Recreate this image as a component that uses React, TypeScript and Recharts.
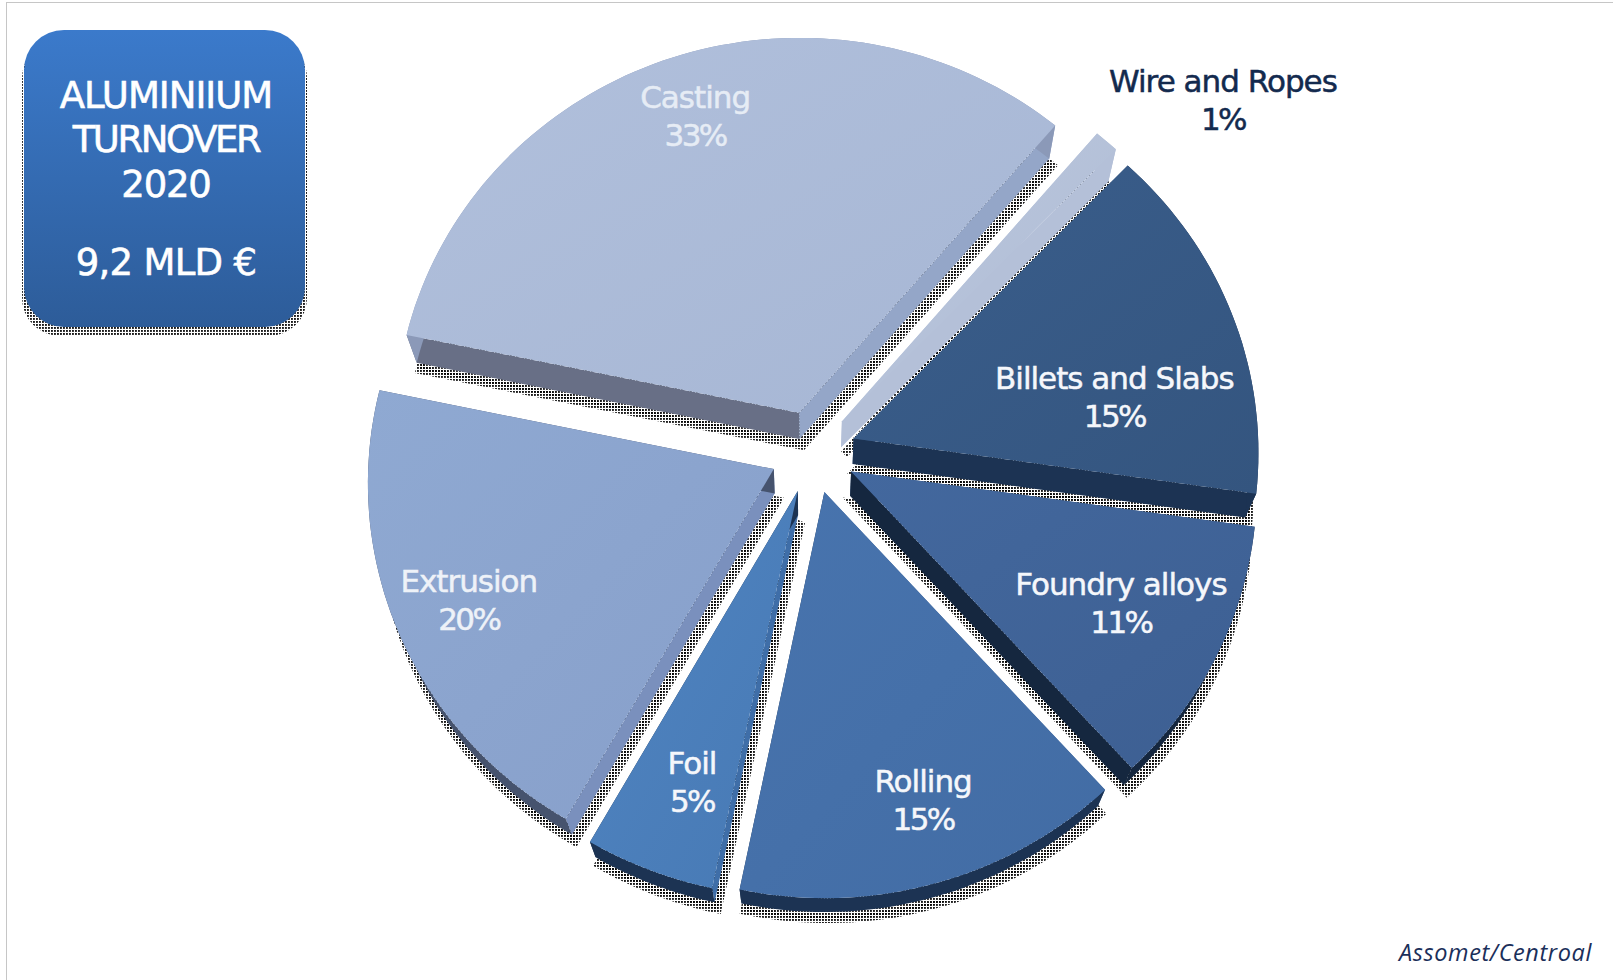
import React from 'react';
import { PieChart, Pie } from 'recharts';

// Turnover share per product family, clockwise from the upper right
const segments = ['Wire and Ropes', 'Billets and Slabs', 'Foundry alloys', 'Rolling', 'Foil', 'Extrusion', 'Casting'];
const shares = [1, 15, 11, 15, 5, 20, 33];

const titleLines = ['ALUMINIIUM', 'TURNOVER', '2020', '9,2 MLD €'];
const titleBaselines = [108, 152, 197, 275];
const titleTracking = [-1.0, -2.4, -1.2, -0.7];
const sourceLine = 'Assomet/Centroal';

// Face colours of each wedge
const topLight = ['#bcc8de', '#3a5e8c', '#43689e', '#4874ae', '#5085c2', '#8fa9d2', '#b1c0dc'];
const topDark = ['#aebbd4', '#34557f', '#3d5f92', '#426ca4', '#4779b4', '#879fca', '#a6b6d4'];
const rimFace = ['#b4c0d8', '#1c3353', '#15273f', '#1c3353', '#1c3353', '#46536e', '#8b99b8'];
const leadFace = ['#b4c0d8', '#2c4a72', '#2c4a72', '#3a6298', '#3f6ea8', '#7a90bd', '#686f86'];
const trailFace = ['#b4c0d8', '#1c3353', '#15273f', '#1c3353', '#1c3353', '#46536e', '#94a6c8'];
const labelInk = ['#132a4e', '#f5f7fb', '#f5f7fb', '#f5f7fb', '#f5f7fb', '#eef2f8', '#e6ecf5'];

// Label anchor relative to the wedge: share of the radius and degrees off its middle
const labelReach = [1.333, 0.756, 0.848, 0.904, 0.87, 0.926, 0.876];
const labelTurn = [-7.1, -8.7, 1.6, 2.2, 0.6, -0.9, 0.5];

const rows = segments.map((name, slot) => ({ name, value: shares[slot], slot }));

const CENTER_X = 813;
const CENTER_Y = 452;
const RADIUS = 405;
const FIRST_ANGLE = 49.5;
const EXPLODE = 43;
const SQUASH = 0.963;
const PERSPECTIVE = 0.033;
const BASE_SCALE = 0.975;
const BASE_DROP = 25;
const LABEL_FONT = '"DejaVu Sans", sans-serif';

type Pt = [number, number];
const rad = (deg: number) => (deg * Math.PI) / 180;

// Tilted-plane projection: the near edge of the disc sits a little further from the centre
function project(cx: number, cy: number, r: number, u: number, v: number): Pt {
  const w = 1 + (PERSPECTIVE * v) / r;
  return [cx + u / w, cy - (SQUASH * v) / w];
}

function toBase(cx: number, cy: number, p: Pt): Pt {
  return [cx + (p[0] - cx) * BASE_SCALE, cy + (p[1] - cy) * BASE_SCALE + BASE_DROP];
}

function wedgeOutline(props: any) {
  const { cx, cy, outerRadius: r, startAngle, endAngle } = props;
  const mid = (startAngle + endAngle) / 2;
  const ox = EXPLODE * Math.cos(rad(mid));
  const oy = EXPLODE * Math.sin(rad(mid));
  const apex = project(cx, cy, r, ox, oy);
  const steps = Math.max(2, Math.ceil(Math.abs(endAngle - startAngle) / 1.5));
  const arc: Pt[] = [];
  for (let i = 0; i <= steps; i++) {
    const a = rad(startAngle + ((endAngle - startAngle) * i) / steps);
    arc.push(project(cx, cy, r, ox + r * Math.cos(a), oy + r * Math.sin(a)));
  }
  return { apex, arc };
}

const toPath = (pts: Pt[]) => 'M' + pts.map((p) => `${p[0].toFixed(1)},${p[1].toFixed(1)}`).join('L') + 'Z';

function GroundShadow(props: any) {
  const { apex, arc } = wedgeOutline(props);
  const base = [apex, ...arc].map((p) => toBase(props.cx, props.cy, p));
  return (
    <path
      d={toPath(base)}
      transform="translate(3 7)"
      fill="url(#dither)"
      stroke="url(#dither)"
      strokeWidth={8}
    />
  );
}

function SideWalls(props: any) {
  const { cx, cy, slot } = props;
  const { apex, arc } = wedgeOutline(props);
  const base = (p: Pt) => toBase(cx, cy, p);
  const first = arc[0];
  const last = arc[arc.length - 1];
  return (
    <g>
      <path d={toPath([apex, first, base(first), base(apex)])} fill={leadFace[slot]} />
      <path d={toPath([apex, last, base(last), base(apex)])} fill={trailFace[slot]} />
      <path d={toPath([...arc, ...arc.map(base).reverse()])} fill={rimFace[slot]} />
    </g>
  );
}

function TopFace(props: any) {
  const { apex, arc } = wedgeOutline(props);
  return <path d={toPath([apex, ...arc])} fill={`url(#face${props.slot})`} />;
}

function wedgeLabel(props: any) {
  const { cx, cy, outerRadius: r, midAngle, index } = props;
  const a = rad(midAngle + labelTurn[index]);
  const x = cx + r * labelReach[index] * Math.cos(a);
  const y = cy - r * labelReach[index] * Math.sin(a);
  const ink = labelInk[index];
  return (
    <text
      key={segments[index]}
      x={x}
      y={y}
      textAnchor="middle"
      fill={ink}
      stroke={ink}
      strokeWidth={0.5}
      fontFamily={LABEL_FONT}
      fontSize={31}
      letterSpacing={-1}
    >
      <tspan x={x} dy={-9}>{segments[index]}</tspan>
      <tspan x={x} dy={38} letterSpacing={-2.6}>{`${shares[index]}%`}</tspan>
    </text>
  );
}

export default function App() {
  return (
    <div style={{ position: 'absolute', left: 0, top: 0, width: 1613, height: 980, background: '#fff' }}>
      <PieChart width={1613} height={980} margin={{ top: 0, right: 0, bottom: 0, left: 0 }}>
        <defs>
          <pattern id="dither" width={3} height={3} patternUnits="userSpaceOnUse">
            <rect width={1.9} height={1.9} fill="#000" fillOpacity={0.9} />
          </pattern>
          <linearGradient id="badge" x1="0" y1="0" x2="0" y2="1">
            <stop offset="0%" stopColor="#3b7acb" />
            <stop offset="100%" stopColor="#2d5c99" />
          </linearGradient>
          {segments.map((name, slot) => (
            <linearGradient key={name} id={`face${slot}`} x1="0" y1="0" x2="1" y2="1">
              <stop offset="0%" stopColor={topLight[slot]} />
              <stop offset="100%" stopColor={topDark[slot]} />
            </linearGradient>
          ))}
        </defs>

        <rect x={6.5} y={2.5} width={1640} height={1000} fill="none" stroke="#c6c6c6" strokeWidth={1} />

        <rect x={22} y={40} width={285} height={296} rx={38} fill="url(#dither)" />
        <rect x={24} y={30} width={281} height={297} rx={40} fill="url(#badge)" />
        {titleLines.map((line, i) => (
          <text key={line} x={166} y={titleBaselines[i]} textAnchor="middle" fill="#fff" stroke="#fff" strokeWidth={0.6}
            fontFamily={LABEL_FONT} fontSize={37} letterSpacing={titleTracking[i]}>
            {line}
          </text>
        ))}

        <Pie data={rows} dataKey="value" cx={CENTER_X} cy={CENTER_Y} outerRadius={RADIUS}
          startAngle={FIRST_ANGLE} endAngle={FIRST_ANGLE - 360} isAnimationActive={false}
          shape={GroundShadow} label={false} labelLine={false} />
        <Pie data={rows} dataKey="value" cx={CENTER_X} cy={CENTER_Y} outerRadius={RADIUS}
          startAngle={FIRST_ANGLE} endAngle={FIRST_ANGLE - 360} isAnimationActive={false}
          shape={SideWalls} label={false} labelLine={false} />
        <Pie data={rows} dataKey="value" cx={CENTER_X} cy={CENTER_Y} outerRadius={RADIUS}
          startAngle={FIRST_ANGLE} endAngle={FIRST_ANGLE - 360} isAnimationActive={false}
          shape={TopFace} label={wedgeLabel} labelLine={false} />

        <text x={1592} y={961} textAnchor="end" fill="#1b2f5a" fontFamily='"Open Sans", sans-serif'
          fontStyle="italic" fontSize={23.5} letterSpacing={0.6}>
          {sourceLine}
        </text>
      </PieChart>
    </div>
  );
}
